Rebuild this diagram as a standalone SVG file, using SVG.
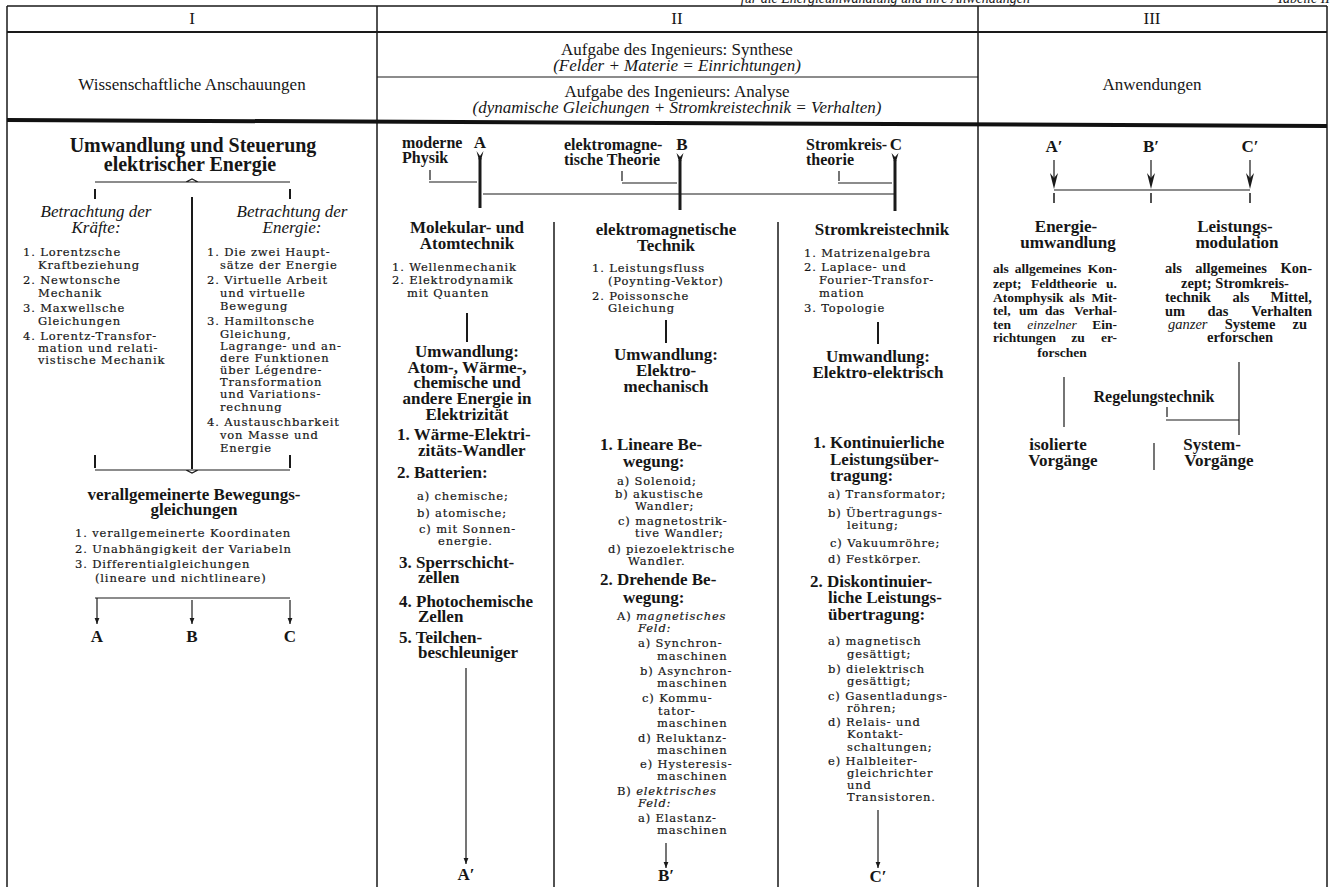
<svg xmlns="http://www.w3.org/2000/svg" width="1333" height="887" viewBox="0 0 1333 887">
<defs>
<style>
text{fill:#161616}
.h{font-family:"Liberation Serif",serif;font-size:17px}
.hi{font-style:italic}
.cap{font-family:"Liberation Serif",serif;font-size:14px;font-style:italic}
.t{font-family:"Liberation Serif",serif;font-size:20px;font-weight:bold;text-anchor:middle}
.b{font-family:"Liberation Serif",serif;font-size:17px;font-weight:bold}
.bm{font-family:"Liberation Serif",serif;font-size:17px;font-weight:bold;text-anchor:middle}
.s{font-family:"Liberation Serif",serif;font-size:16px;font-weight:bold}
.it{font-family:"Liberation Serif",serif;font-size:17px;font-style:italic;text-anchor:middle}
.l{font-family:"DejaVu Serif",serif;font-size:11.5px;letter-spacing:0.85px;stroke:#161616;stroke-width:0.18px}
.li{font-style:italic}
.p{font-family:"Liberation Serif",serif;font-size:13.5px;font-weight:bold}
.pr{font-family:"Liberation Serif",serif;font-size:14.5px;font-weight:bold}
.pi{font-style:italic;font-weight:normal}
.m{text-anchor:middle}
.e{text-anchor:end}
.fr{stroke:#1a1a1a;stroke-width:1.5;fill:none}
.ln{stroke:#1a1a1a;stroke-width:1.2;fill:none}
.tk{stroke:#1a1a1a;stroke-width:2;fill:none}
.st{stroke:#1a1a1a;stroke-width:3;fill:none}
.ah{fill:#1a1a1a;stroke:none}
</style>
<marker id="arr" viewBox="0 0 10 10" refX="10" refY="5" markerWidth="6" markerHeight="6" orient="auto" markerUnits="userSpaceOnUse">
<path d="M0,1 L10,5 L0,9 Z" fill="#1a1a1a"/>
</marker>
</defs>
<rect width="1333" height="887" fill="#ffffff"/>

<g id="frame">
<text class="cap e" x="1030" y="3">für die Energieumwandlung und ihre Anwendungen</text>
<text class="cap e" x="1330" y="3">Tabelle II</text>
<path class="fr" d="M7,6 H1327 M7,6 V887 M1327,6 V887 M377,6 V887 M978,6 V887"/>
<path class="tk" d="M7,32 H1327"/>
<path class="ln" d="M377,77 H978"/>
<path d="M7,120 L1327,126" stroke="#111" stroke-width="4"/>
<path class="fr" d="M554,222 V887 M778,222 V887"/>
</g>

<g id="header">
<text class="h m" x="192" y="24">I</text>
<text class="h m" x="677" y="24">II</text>
<text class="h m" x="1152" y="24">III</text>
<text class="h m" x="192" y="90">Wissenschaftliche Anschauungen</text>
<text class="h m" x="677" y="55">Aufgabe des Ingenieurs: Synthese<tspan class="hi" x="677" y="71">(Felder + Materie = Einrichtungen)</tspan></text>
<text class="h m" x="677" y="97">Aufgabe des Ingenieurs: Analyse<tspan class="hi" x="677" y="113">(dynamische Gleichungen + Stromkreistechnik = Verhalten)</tspan></text>
<text class="h m" x="1152" y="90">Anwendungen</text>
</g>

<g id="col1-title">
<text class="t" x="193" y="152">Umwandlung und Steuerung<tspan x="190" y="171">elektrischer Energie</tspan></text>
</g>

<g id="col1-kraefte">
<text class="it" x="96" y="217">Betrachtung der<tspan x="96" y="233">Kräfte:</tspan></text>
<text class="l" x="23" y="256">1. Lorentzsche<tspan x="38" y="269">Kraftbeziehung</tspan></text>
<text class="l" x="23" y="284">2. Newtonsche<tspan x="38" y="297">Mechanik</tspan></text>
<text class="l" x="23" y="312">3. Maxwellsche<tspan x="38" y="325">Gleichungen</tspan></text>
<text class="l" x="23" y="340">4. Lorentz-Transfor-<tspan x="38" y="352">mation und relati-</tspan><tspan x="38" y="364">vistische Mechanik</tspan></text>
</g>

<g id="col1-energie">
<text class="it" x="292" y="217">Betrachtung der<tspan x="292" y="233">Energie:</tspan></text>
<text class="l" x="207" y="256">1. Die zwei Haupt-<tspan x="220" y="269">sätze der Energie</tspan></text>
<text class="l" x="207" y="284">2. Virtuelle Arbeit<tspan x="220" y="297">und virtuelle</tspan><tspan x="220" y="310">Bewegung</tspan></text>
<text class="l" x="207" y="325">3. Hamiltonsche<tspan x="220" y="338">Gleichung,</tspan><tspan x="220" y="350">Lagrange- und an-</tspan><tspan x="220" y="362">dere Funktionen</tspan><tspan x="220" y="374">über Légendre-</tspan><tspan x="220" y="386">Transformation</tspan><tspan x="220" y="398">und Variations-</tspan><tspan x="220" y="411">rechnung</tspan></text>
<text class="l" x="207" y="426">4. Austauschbarkeit<tspan x="220" y="439">von Masse und</tspan><tspan x="220" y="452">Energie</tspan></text>
</g>

<g id="col1-bewegung">
<text class="bm" x="194" y="500">verallgemeinerte Bewegungs-<tspan x="194" y="515">gleichungen</tspan></text>
<text class="l" x="75" y="537">1. verallgemeinerte Koordinaten</text>
<text class="l" x="75" y="553">2. Unabhängigkeit der Variabeln</text>
<text class="l" x="75" y="568">3. Differentialgleichungen<tspan x="95" y="582">(lineare und nichtlineare)</tspan></text>
<text class="bm" x="97" y="642">A</text>
<text class="bm" x="192" y="642">B</text>
<text class="bm" x="290" y="642">C</text>
</g>

<g id="col2-heads">
<text class="s" x="402" y="148">moderne<tspan x="402" y="163">Physik</tspan></text>
<text class="bm" x="480" y="148">A</text>
<text class="s" x="564" y="150">elektromagne-<tspan x="564" y="165">tische Theorie</tspan></text>
<text class="bm" x="682" y="150">B</text>
<text class="s" x="806" y="150">Stromkreis-<tspan x="806" y="165">theorie</tspan></text>
<text class="bm" x="896" y="150">C</text>
</g>

<g id="colA">
<text class="bm" x="467" y="233">Molekular- und<tspan x="467" y="249">Atomtechnik</tspan></text>
<text class="l" x="392" y="271">1. Wellenmechanik</text>
<text class="l" x="392" y="284">2. Elektrodynamik<tspan x="407" y="297">mit Quanten</tspan></text>
<text class="bm" x="467" y="357">Umwandlung:<tspan x="467" y="373">Atom-, Wärme-,</tspan><tspan x="467" y="388">chemische und</tspan><tspan x="467" y="404">andere Energie in</tspan><tspan x="467" y="420">Elektrizität</tspan></text>
<text class="b" x="397" y="440">1. Wärme-Elektri-<tspan x="418" y="456">zitäts-Wandler</tspan></text>
<text class="b" x="397" y="478">2. Batterien:</text>
<text class="l" x="417" y="500">a) chemische;</text>
<text class="l" x="417" y="517">b) atomische;</text>
<text class="l" x="419" y="533">c) mit Sonnen-<tspan x="438" y="545">energie.</tspan></text>
<text class="b" x="399" y="568">3. Sperrschicht-<tspan x="418" y="583">zellen</tspan></text>
<text class="b" x="399" y="607">4. Photochemische<tspan x="418" y="622">Zellen</tspan></text>
<text class="b" x="399" y="643">5. Teilchen-<tspan x="418" y="658">beschleuniger</tspan></text>
<text class="bm" x="466" y="880">A′</text>
</g>

<g id="colB">
<text class="bm" x="666" y="235">elektromagnetische<tspan x="666" y="251">Technik</tspan></text>
<text class="l" x="592" y="272">1. Leistungsfluss<tspan x="608" y="285">(Poynting-Vektor)</tspan></text>
<text class="l" x="592" y="300">2. Poissonsche<tspan x="608" y="312">Gleichung</tspan></text>
<text class="bm" x="666" y="360">Umwandlung:<tspan x="666" y="376">Elektro-</tspan><tspan x="666" y="392">mechanisch</tspan></text>
<text class="b" x="600" y="450">1. Lineare Be-<tspan x="623" y="467">wegung:</tspan></text>
<text class="l" x="617" y="485">a) Solenoid;</text>
<text class="l" x="615" y="498">b) akustische<tspan x="635" y="510">Wandler;</tspan></text>
<text class="l" x="618" y="525">c) magnetostrik-<tspan x="635" y="537">tive Wandler;</tspan></text>
<text class="l" x="608" y="553">d) piezoelektrische<tspan x="628" y="565">Wandler.</tspan></text>
<text class="b" x="600" y="585">2. Drehende Be-<tspan x="623" y="603">wegung:</tspan></text>
<text class="l" x="617" y="620">A) <tspan class="li">magnetisches</tspan><tspan class="li" x="638" y="632">Feld:</tspan></text>
<text class="l" x="638" y="647">a) Synchron-<tspan x="657" y="660">maschinen</tspan></text>
<text class="l" x="640" y="675">b) Asynchron-<tspan x="657" y="687">maschinen</tspan></text>
<text class="l" x="642" y="702">c) Kommu-<tspan x="658" y="715">tator-</tspan><tspan x="657" y="727">maschinen</tspan></text>
<text class="l" x="638" y="742">d) Reluktanz-<tspan x="657" y="754">maschinen</tspan></text>
<text class="l" x="640" y="768">e) Hysteresis-<tspan x="657" y="780">maschinen</tspan></text>
<text class="l" x="617" y="795">B) <tspan class="li">elektrisches</tspan><tspan class="li" x="638" y="807">Feld:</tspan></text>
<text class="l" x="638" y="822">a) Elastanz-<tspan x="657" y="834">maschinen</tspan></text>
<text class="bm" x="666" y="881">B′</text>
</g>

<g id="colC">
<text class="bm" x="882" y="235">Stromkreistechnik</text>
<text class="l" x="804" y="257">1. Matrizenalgebra</text>
<text class="l" x="804" y="271">2. Laplace- und<tspan x="819" y="284">Fourier-Transfor-</tspan><tspan x="819" y="297">mation</tspan></text>
<text class="l" x="804" y="312">3. Topologie</text>
<text class="bm" x="878" y="362">Umwandlung:<tspan x="878" y="378">Elektro-elektrisch</tspan></text>
<text class="b" x="813" y="448">1. Kontinuierliche<tspan x="830" y="465">Leistungsüber-</tspan><tspan x="830" y="481">tragung:</tspan></text>
<text class="l" x="828" y="498">a) Transformator;</text>
<text class="l" x="828" y="517">b) Übertragungs-<tspan x="847" y="529">leitung;</tspan></text>
<text class="l" x="830" y="547">c) Vakuumröhre;</text>
<text class="l" x="828" y="563">d) Festkörper.</text>
<text class="b" x="810" y="587">2. Diskontinuier-<tspan x="828" y="603">liche Leistungs-</tspan><tspan x="828" y="620">übertragung:</tspan></text>
<text class="l" x="828" y="645">a) magnetisch<tspan x="847" y="658">gesättigt;</tspan></text>
<text class="l" x="828" y="673">b) dielektrisch<tspan x="847" y="685">gesättigt;</tspan></text>
<text class="l" x="828" y="700">c) Gasentladungs-<tspan x="847" y="712">röhren;</tspan></text>
<text class="l" x="828" y="726">d) Relais- und<tspan x="847" y="738">Kontakt-</tspan><tspan x="847" y="751">schaltungen;</tspan></text>
<text class="l" x="828" y="765">e) Halbleiter-<tspan x="847" y="777">gleichrichter</tspan><tspan x="847" y="789">und</tspan><tspan x="847" y="801">Transistoren.</tspan></text>
<text class="bm" x="878" y="882">C′</text>
</g>

<g id="col3">
<text class="bm" x="1054" y="152">A′</text>
<text class="bm" x="1151" y="152">B′</text>
<text class="bm" x="1250" y="152">C′</text>
<text class="bm" x="1066" y="232">Energie-<tspan x="1068" y="248">umwandlung</tspan></text>
<text class="bm" x="1235" y="232">Leistungs-<tspan x="1237" y="248">modulation</tspan></text>
<text class="p" x="993" y="273">als<tspan x="1048" y="273" text-anchor="middle">allgemeines</tspan><tspan x="1117" y="273" text-anchor="end">Kon-</tspan><tspan x="993" y="288">zept;</tspan><tspan x="1064" y="288" text-anchor="middle">Feldtheorie</tspan><tspan x="1117" y="288" text-anchor="end">u.</tspan><tspan x="993" y="302">Atomphysik</tspan><tspan x="1077" y="302" text-anchor="middle">als</tspan><tspan x="1117" y="302" text-anchor="end">Mit-</tspan><tspan x="993" y="315">tel,</tspan><tspan x="1019" y="315">um</tspan><tspan x="1045" y="315">das</tspan><tspan x="1117" y="315" text-anchor="end">Verhal-</tspan><tspan x="993" y="329">ten</tspan><tspan class="pi" x="1052" y="329" text-anchor="middle">einzelner</tspan><tspan x="1117" y="329" text-anchor="end">Ein-</tspan><tspan x="993" y="342">richtungen</tspan><tspan x="1078" y="342" text-anchor="middle">zu</tspan><tspan x="1117" y="342" text-anchor="end">er-</tspan><tspan x="1062" y="357" text-anchor="middle">forschen</tspan></text>
<text class="pr" x="1165" y="273">als<tspan x="1231" y="273" text-anchor="middle">allgemeines</tspan><tspan x="1312" y="273" text-anchor="end">Kon-</tspan><tspan x="1235" y="288" text-anchor="middle">zept; Stromkreis-</tspan><tspan x="1165" y="302">technik</tspan><tspan x="1241" y="302" text-anchor="middle">als</tspan><tspan x="1312" y="302" text-anchor="end">Mittel,</tspan><tspan x="1165" y="316">um</tspan><tspan x="1218" y="316" text-anchor="middle">das</tspan><tspan x="1312" y="316" text-anchor="end">Verhalten</tspan><tspan class="pi" x="1168" y="329">ganzer</tspan><tspan x="1250" y="329" text-anchor="middle">Systeme</tspan><tspan x="1307" y="329" text-anchor="end">zu</tspan><tspan x="1240" y="342" text-anchor="middle">erforschen</tspan></text>
<text class="s m" x="1154" y="402">Regelungstechnik</text>
<text class="bm" x="1058" y="450">isolierte<tspan x="1063" y="466">Vorgänge</tspan></text>
<text class="bm" x="1212" y="450">System-<tspan x="1219" y="466">Vorgänge</tspan></text>
</g>

<g id="connectors">
<path class="ln" d="M95,182 H290 M186,182 L192,179 L198,182"/>
<path class="tk" d="M95,189 V199 M290,189 V199 M192,197 V469"/>
<path class="tk" d="M95,455 V468 M290,455 V468"/>
<path class="ln" d="M95,470 H290 M186,470 L192,473 L198,470"/>
<path class="ln" d="M95,598 H290"/>
<path class="ln" d="M97,598 V624" marker-end="url(#arr)"/>
<path class="ln" d="M192,600 V624" marker-end="url(#arr)"/>
<path class="ln" d="M290,600 V624" marker-end="url(#arr)"/>

<path class="ah" d="M476.5,151 L480,164 L483.5,151 L480,156 Z"/>
<path class="st" d="M480,158 V208"/>
<path class="ln" d="M430,170 V180 M429,182 H477"/>
<path class="ah" d="M676.5,153 L680,165 L683.5,153 L680,157 Z"/>
<path class="st" d="M680,160 V210"/>
<path class="ln" d="M622,171 V181 M622,183 H677"/>
<path class="ah" d="M891.5,153 L895,165 L898.5,153 L895,157 Z"/>
<path class="st" d="M895,160 V211"/>
<path class="ln" d="M839,171 V181 M838,183 H892"/>
<path class="ln" d="M483,194 H895"/>

<path class="tk" d="M467,313 V342 M666,320 V343 M878,322 V344"/>
<path class="ln" d="M466,668 V864" marker-end="url(#arr)"/>
<path class="ln" d="M666,843 V868" marker-end="url(#arr)"/>
<path class="ln" d="M878,810 V868" marker-end="url(#arr)"/>

<path class="ln" d="M1054,160 V180 M1151,160 V180 M1250,160 V180"/>
<path class="ah" d="M1050,173 L1054,189 L1058,173 L1054,178 Z M1147,173 L1151,189 L1155,173 L1151,178 Z M1246,173 L1250,189 L1254,173 L1250,178 Z"/>
<path class="ln" d="M1054,190 H1250"/>
<path class="fr" d="M1054,193 V203 M1151,193 V203 M1250,193 V203"/>
<path class="ln" d="M1064,377 V427 M1239,362 V435"/>
<path class="ln" d="M1167,407 V417 M1166,420 H1239"/>
<path class="ln" d="M1154,443 V470"/>
</g>
</svg>
